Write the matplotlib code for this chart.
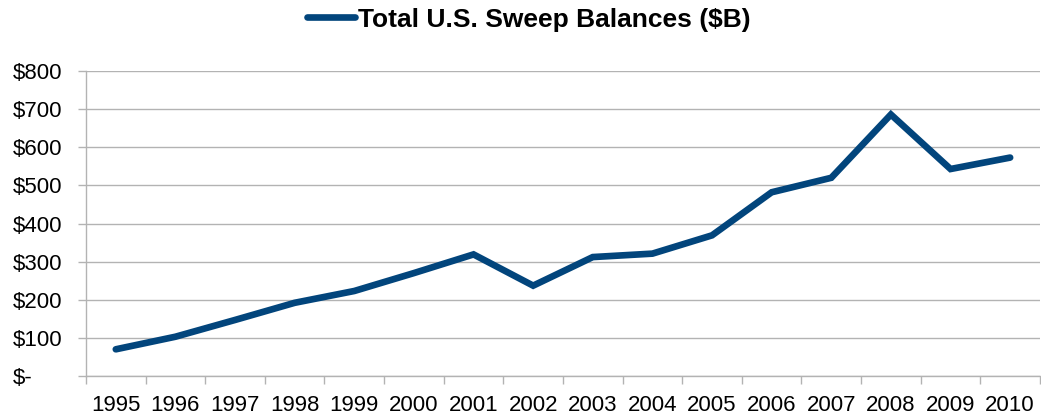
import matplotlib.pyplot as plt
from matplotlib.ticker import FixedLocator

plt.rcParams['font.family'] = ['Liberation Sans', 'DejaVu Sans']

# Data
years = ['1995', '1996', '1997', '1998', '1999', '2000', '2001', '2002',
         '2003', '2004', '2005', '2006', '2007', '2008', '2009', '2010']
balances = [70, 103, 147, 192, 223, 270, 319, 237,
            312, 321, 369, 482, 520, 686, 543, 573]
y_ticks = [0, 100, 200, 300, 400, 500, 600, 700, 800]
y_labels = ['$-', '$100', '$200', '$300', '$400', '$500', '$600', '$700', '$800']

line_color = '#02457c'
grid_color = '#b3b3b3'

fig = plt.figure(figsize=(10.41, 4.18), dpi=100)
ax = fig.add_axes([0.0826, 0.1005, 0.9164, 0.7295])

x = list(range(len(years)))
line, = ax.plot(x, balances, color=line_color, linewidth=4.8,
                solid_capstyle='round', solid_joinstyle='miter',
                label='Total U.S. Sweep Balances ($B)', zorder=3)

# Axes limits and ticks (category axis, ticks between categories)
ax.set_xlim(-0.5, len(years) - 0.5)
ax.set_ylim(0, 800)
ax.xaxis.set_major_locator(FixedLocator([i - 0.5 for i in range(len(years) + 1)]))
ax.xaxis.set_major_formatter(plt.NullFormatter())
ax.xaxis.set_minor_locator(FixedLocator(x))
ax.set_xticklabels(years, minor=True)
ax.tick_params(axis='x', which='major', length=6, width=1, color=grid_color, direction='out')
ax.tick_params(axis='x', which='minor', length=0, pad=14, labelsize=16)

ax.set_yticks(y_ticks)
ax.set_yticklabels(y_labels)
ax.tick_params(axis='y', length=6, width=1, color=grid_color, pad=47, labelsize=16)
for lbl in ax.get_yticklabels():
    lbl.set_horizontalalignment('left')

ax.grid(axis='y', color=grid_color, linewidth=1)
ax.set_axisbelow(True)
for side in ['top', 'right']:
    ax.spines[side].set_visible(False)
for side in ['left', 'bottom']:
    ax.spines[side].set_color(grid_color)
    ax.spines[side].set_linewidth(1)

# Legend acting as title
leg = fig.legend(handles=[line], loc='center', bbox_to_anchor=(0.508, 0.953),
                 frameon=False, prop={'weight': 'bold', 'size': 19},
                 handlelength=1.8, handletextpad=0.12)

fig.savefig('out.png', dpi=100)
